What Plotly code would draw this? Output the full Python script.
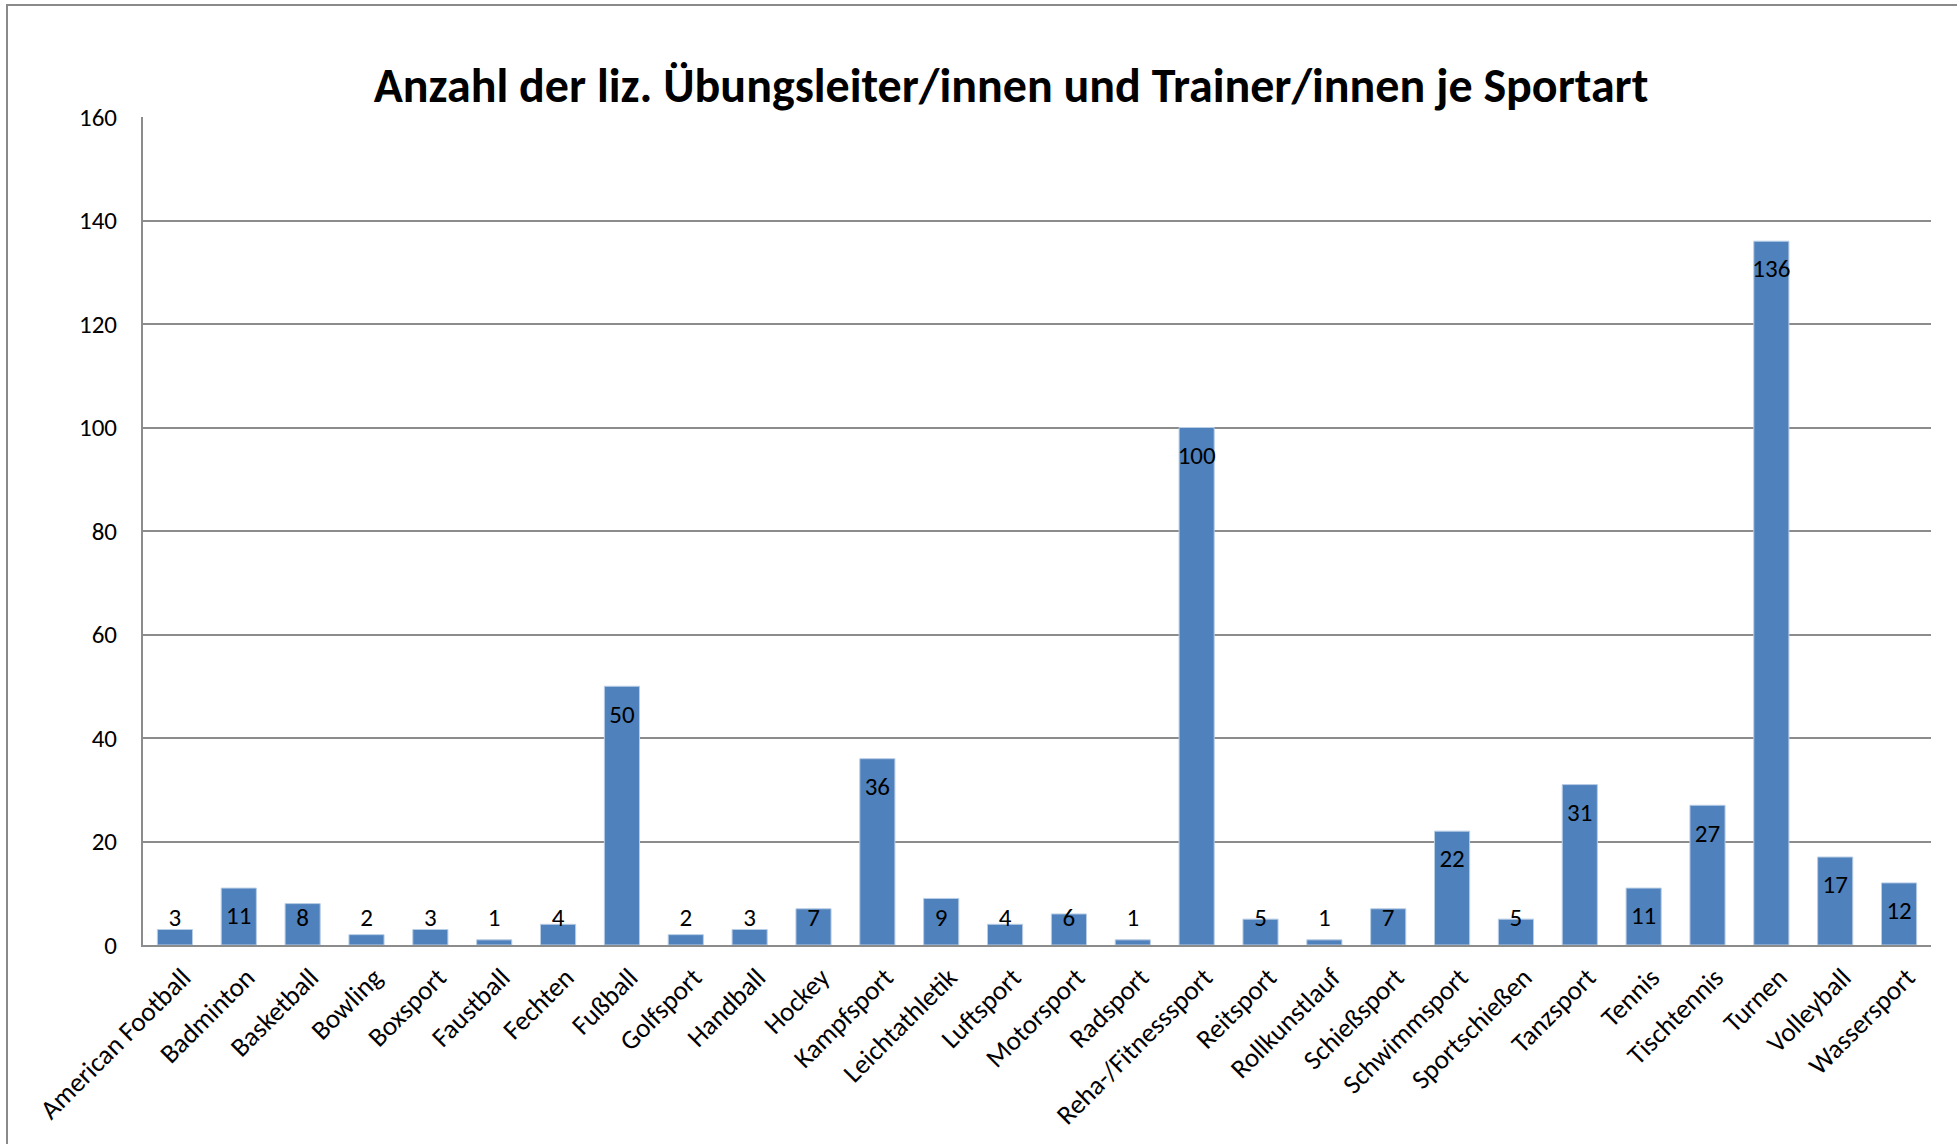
import plotly.graph_objects as go

categories = ["American Football", "Badminton", "Basketball", "Bowling", "Boxsport",
              "Faustball", "Fechten", "Fußball", "Golfsport", "Handball", "Hockey",
              "Kampfsport", "Leichtathletik", "Luftsport", "Motorsport", "Radsport",
              "Reha-/Fitnesssport", "Reitsport", "Rollkunstlauf", "Schießsport",
              "Schwimmsport", "Sportschießen", "Tanzsport", "Tennis", "Tischtennis",
              "Turnen", "Volleyball", "Wassersport"]
values = [3, 11, 8, 2, 3, 1, 4, 50, 2, 3, 7, 36, 9, 4, 6, 1, 100, 5, 1, 7,
          22, 5, 31, 11, 27, 136, 17, 12]
y_ticks = [0, 20, 40, 60, 80, 100, 120, 140, 160]

title_text = "Anzahl der liz. Übungsleiter/innen und Trainer/innen je Sportart"

FONT = "Carlito, Calibri, Lato, sans-serif"
W, H = 1957, 1144
ML, MR, MT, MB = 143, 26, 117, 199

# label placement (Excel "inside end", clamped near the base for short bars)
label_offset = 5.8
label_floor = 4.9
label_y = [max(v - label_offset, label_floor) for v in values]

fig = go.Figure()
fig.add_trace(go.Bar(
    x=categories, y=values,
    marker=dict(color="#4F81BD", line=dict(color="#B9CDE5", width=1)),
    hoverinfo="x+y",
))
fig.add_trace(go.Scatter(
    x=categories, y=label_y, mode="text",
    text=[str(v) for v in values],
    textposition="middle center",
    textfont=dict(family=FONT, size=25, color="#000000"),
    hoverinfo="skip",
))

pw = W - ML - MR
ph = H - MT - MB
fig.add_shape(type="rect", xref="paper", yref="paper",
              x0=(7 - ML) / pw, x1=(W + 20 - ML) / pw,
              y0=-(H + 20 - MT - ph) / ph, y1=(H - 5 - MB) / ph,
              line=dict(color="#8A8A8A", width=2), fillcolor="rgba(0,0,0,0)",
              layer="below")

fig.update_layout(
    width=W, height=H,
    margin=dict(l=ML, r=MR, t=MT, b=MB, autoexpand=False),
    paper_bgcolor="#FFFFFF", plot_bgcolor="#FFFFFF",
    showlegend=False,
    bargap=0.45,
    font=dict(family=FONT, size=25, color="#000000"),
    title=dict(text="<b>" + title_text + "</b>", x=1011 / W, xref="container",
               xanchor="center", y=1 - 85 / H, yref="container", yanchor="middle",
               font=dict(family=FONT, size=48, color="#000000")),
    xaxis=dict(type="category", range=[-0.5, len(categories) - 0.5],
               tickangle=-45, showgrid=False, showline=True, linecolor="#8C8C8C",
               linewidth=2, ticks="", automargin=False,
               ticklabelshift=8, ticklabelstandoff=4,
               tickfont=dict(family=FONT, size=27, color="#000000"),
               fixedrange=True),
    yaxis=dict(range=[0, 160], tickvals=y_ticks, showgrid=True, gridcolor="#8C8C8C",
               gridwidth=1.5, showline=True, linecolor="#8C8C8C", linewidth=2,
               ticks="", ticklabelstandoff=19, zeroline=False, automargin=False,
               tickfont=dict(family=FONT, size=25, color="#000000"), fixedrange=True),
)

fig.write_html("out.html", config={"displayModeBar": False},
               post_script="document.body.style.margin='0';document.body.style.overflow='hidden';")
